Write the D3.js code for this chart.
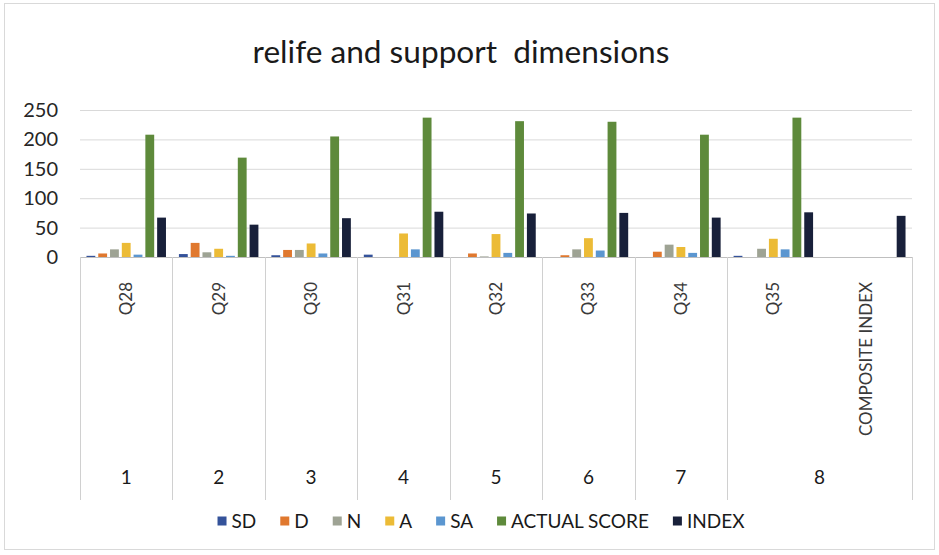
<!DOCTYPE html>
<html>
<head>
<meta charset="utf-8">
<script src="https://cdn.jsdelivr.net/npm/d3@7"></script>
<style>
  body { margin: 0; background: #fff; }
  svg { display: block; font-family: Lato, "Open Sans", sans-serif; }
</style>
</head>
<body>
<svg id="chart" width="939" height="555"></svg>
<script>
// Inner categories (questions) and the outer grouping row underneath
const categories = ["Q28", "Q29", "Q30", "Q31", "Q32", "Q33", "Q34", "Q35", "COMPOSITE INDEX"];
const groupLabels = ["1", "2", "3", "4", "5", "6", "7", "8"];
const groupSpans = [1, 1, 1, 1, 1, 1, 1, 2];

const seriesNames = ["SD", "D", "N", "A", "SA", "ACTUAL SCORE", "INDEX"];
const sdValues     = [2, 5, 3, 4, 0, 0, 0, 2, null];
const dValues      = [6, 24, 12, 0, 6, 3, 9, 0, null];
const nValues      = [13, 8, 12, 0, 1, 13, 21, 14, null];
const aValues      = [24, 14, 23, 40, 39, 32, 17, 31, null];
const saValues     = [4, 2, 6, 13, 7, 11, 7, 13, null];
const actualValues = [208, 169, 205, 237, 231, 230, 208, 237, null];
const indexValues  = [67, 55, 66, 77, 74, 75, 67, 76, 70];

const yTicks = [0, 50, 100, 150, 200, 250];
const titleText = "relife and support  dimensions";

const seriesValues = [sdValues, dValues, nValues, aValues, saValues, actualValues, indexValues];
const seriesColors = ["#34529a", "#e0782e", "#9ea394", "#ecbb36", "#5b96d0", "#5e8a3b", "#18203a"];

const svg = d3.select("#chart");

// Outer frame of the chart area
svg.append("rect")
  .attr("x", 4.5).attr("y", 3.5).attr("width", 930).attr("height", 546)
  .attr("fill", "#fff").attr("stroke", "#d9d9d9");

const plotLeft = 80, plotRight = 912, plotBottom = 257, plotTop = 110;

const x = d3.scaleBand().domain(categories).range([plotLeft, plotRight]).padding(0);
const xs = d3.scaleBand().domain(seriesNames).range([0, x.bandwidth()])
  .paddingInner(0.25).paddingOuter(0.55);
const y = d3.scaleLinear().domain([0, 250]).range([plotBottom, plotTop]);

// Title, sized to its intended width (double space kept)
const title = svg.append("text")
  .attr("x", 461).attr("y", 63)
  .attr("text-anchor", "middle")
  .attr("fill", "#1a1a1a")
  .style("white-space", "pre")
  .style("font-size", "28px")
  .text(titleText);
const tw = title.node().getComputedTextLength();
title.style("font-size", (28 * 417 / tw).toFixed(2) + "px");

// Horizontal gridlines and value labels
const yAxis = svg.append("g")
  .attr("transform", `translate(${plotLeft},0)`)
  .call(d3.axisLeft(y).tickValues(yTicks).tickSize(-(plotRight - plotLeft)).tickPadding(22));
yAxis.select(".domain").remove();
yAxis.selectAll(".tick line").attr("stroke", "#d9d9d9");
yAxis.selectAll(".tick text")
  .attr("fill", "#262626")
  .style("font-size", "20px")
  .style("font-family", "Lato, 'Open Sans', sans-serif");

// Bars
const rows = categories.map((c, i) => ({
  cat: c,
  vals: seriesNames.map((s, k) => ({ series: s, color: seriesColors[k], value: seriesValues[k][i] }))
    .filter(d => d.value !== null)
}));

svg.append("g").selectAll("g")
  .data(rows)
  .join("g")
  .attr("transform", d => `translate(${x(d.cat)},0)`)
  .selectAll("rect")
  .data(d => d.vals)
  .join("rect")
  .attr("x", d => xs(d.series))
  .attr("width", xs.bandwidth())
  .attr("y", d => y(d.value))
  .attr("height", d => y(0) - y(d.value))
  .attr("fill", d => d.color);

// Category axis line
svg.append("line")
  .attr("x1", plotLeft).attr("x2", plotRight)
  .attr("y1", y(0) + 0.5).attr("y2", y(0) + 0.5)
  .attr("stroke", "#bfbfbf");

// Group dividers extending through both label rows
const boundaries = [0];
groupSpans.reduce((acc, n) => { boundaries.push(acc + n); return acc + n; }, 0);
const boundaryX = boundaries.map(i => i < categories.length ? x(categories[i]) : plotRight);
svg.append("g").selectAll("line")
  .data(boundaryX)
  .join("line")
  .attr("x1", d => Math.round(d) + 0.5).attr("x2", d => Math.round(d) + 0.5)
  .attr("y1", y(0)).attr("y2", 500)
  .attr("stroke", "#d0d0d0");

// Rotated question labels
svg.append("g").selectAll("text")
  .data(categories)
  .join("text")
  .attr("transform", d => `translate(${x(d) + x.bandwidth() / 2},282) rotate(-90)`)
  .attr("text-anchor", "end")
  .attr("dy", "0.35em")
  .attr("fill", "#3a3a3a")
  .style("font-size", "17px")
  .text(d => d);

// Outer group labels
const groupCenters = groupLabels.map((g, i) => (boundaryX[i] + boundaryX[i + 1]) / 2);
svg.append("g").selectAll("text")
  .data(groupLabels)
  .join("text")
  .attr("x", (d, i) => groupCenters[i])
  .attr("y", 477)
  .attr("dy", "0.35em")
  .attr("text-anchor", "middle")
  .attr("fill", "#1a1a1a")
  .style("font-size", "19px")
  .text(d => d);

// Legend
const legend = svg.append("g");
const items = legend.selectAll("g")
  .data(seriesNames)
  .join("g");
items.append("rect")
  .attr("width", 9).attr("height", 9)
  .attr("y", -4.5)
  .attr("fill", (d, i) => seriesColors[i]);
items.append("text")
  .attr("x", 14)
  .attr("dy", "0.35em")
  .attr("fill", "#1a1a1a")
  .style("font-size", "19px")
  .text(d => d);
let cursor = 0;
const gap = 24;
items.each(function () {
  const w = 14 + d3.select(this).select("text").node().getComputedTextLength();
  d3.select(this).attr("transform", `translate(${cursor},0)`);
  cursor += w + gap;
});
const legendWidth = cursor - gap;
legend.attr("transform", `translate(${481 - legendWidth / 2},521)`);
</script>
</body>
</html>
